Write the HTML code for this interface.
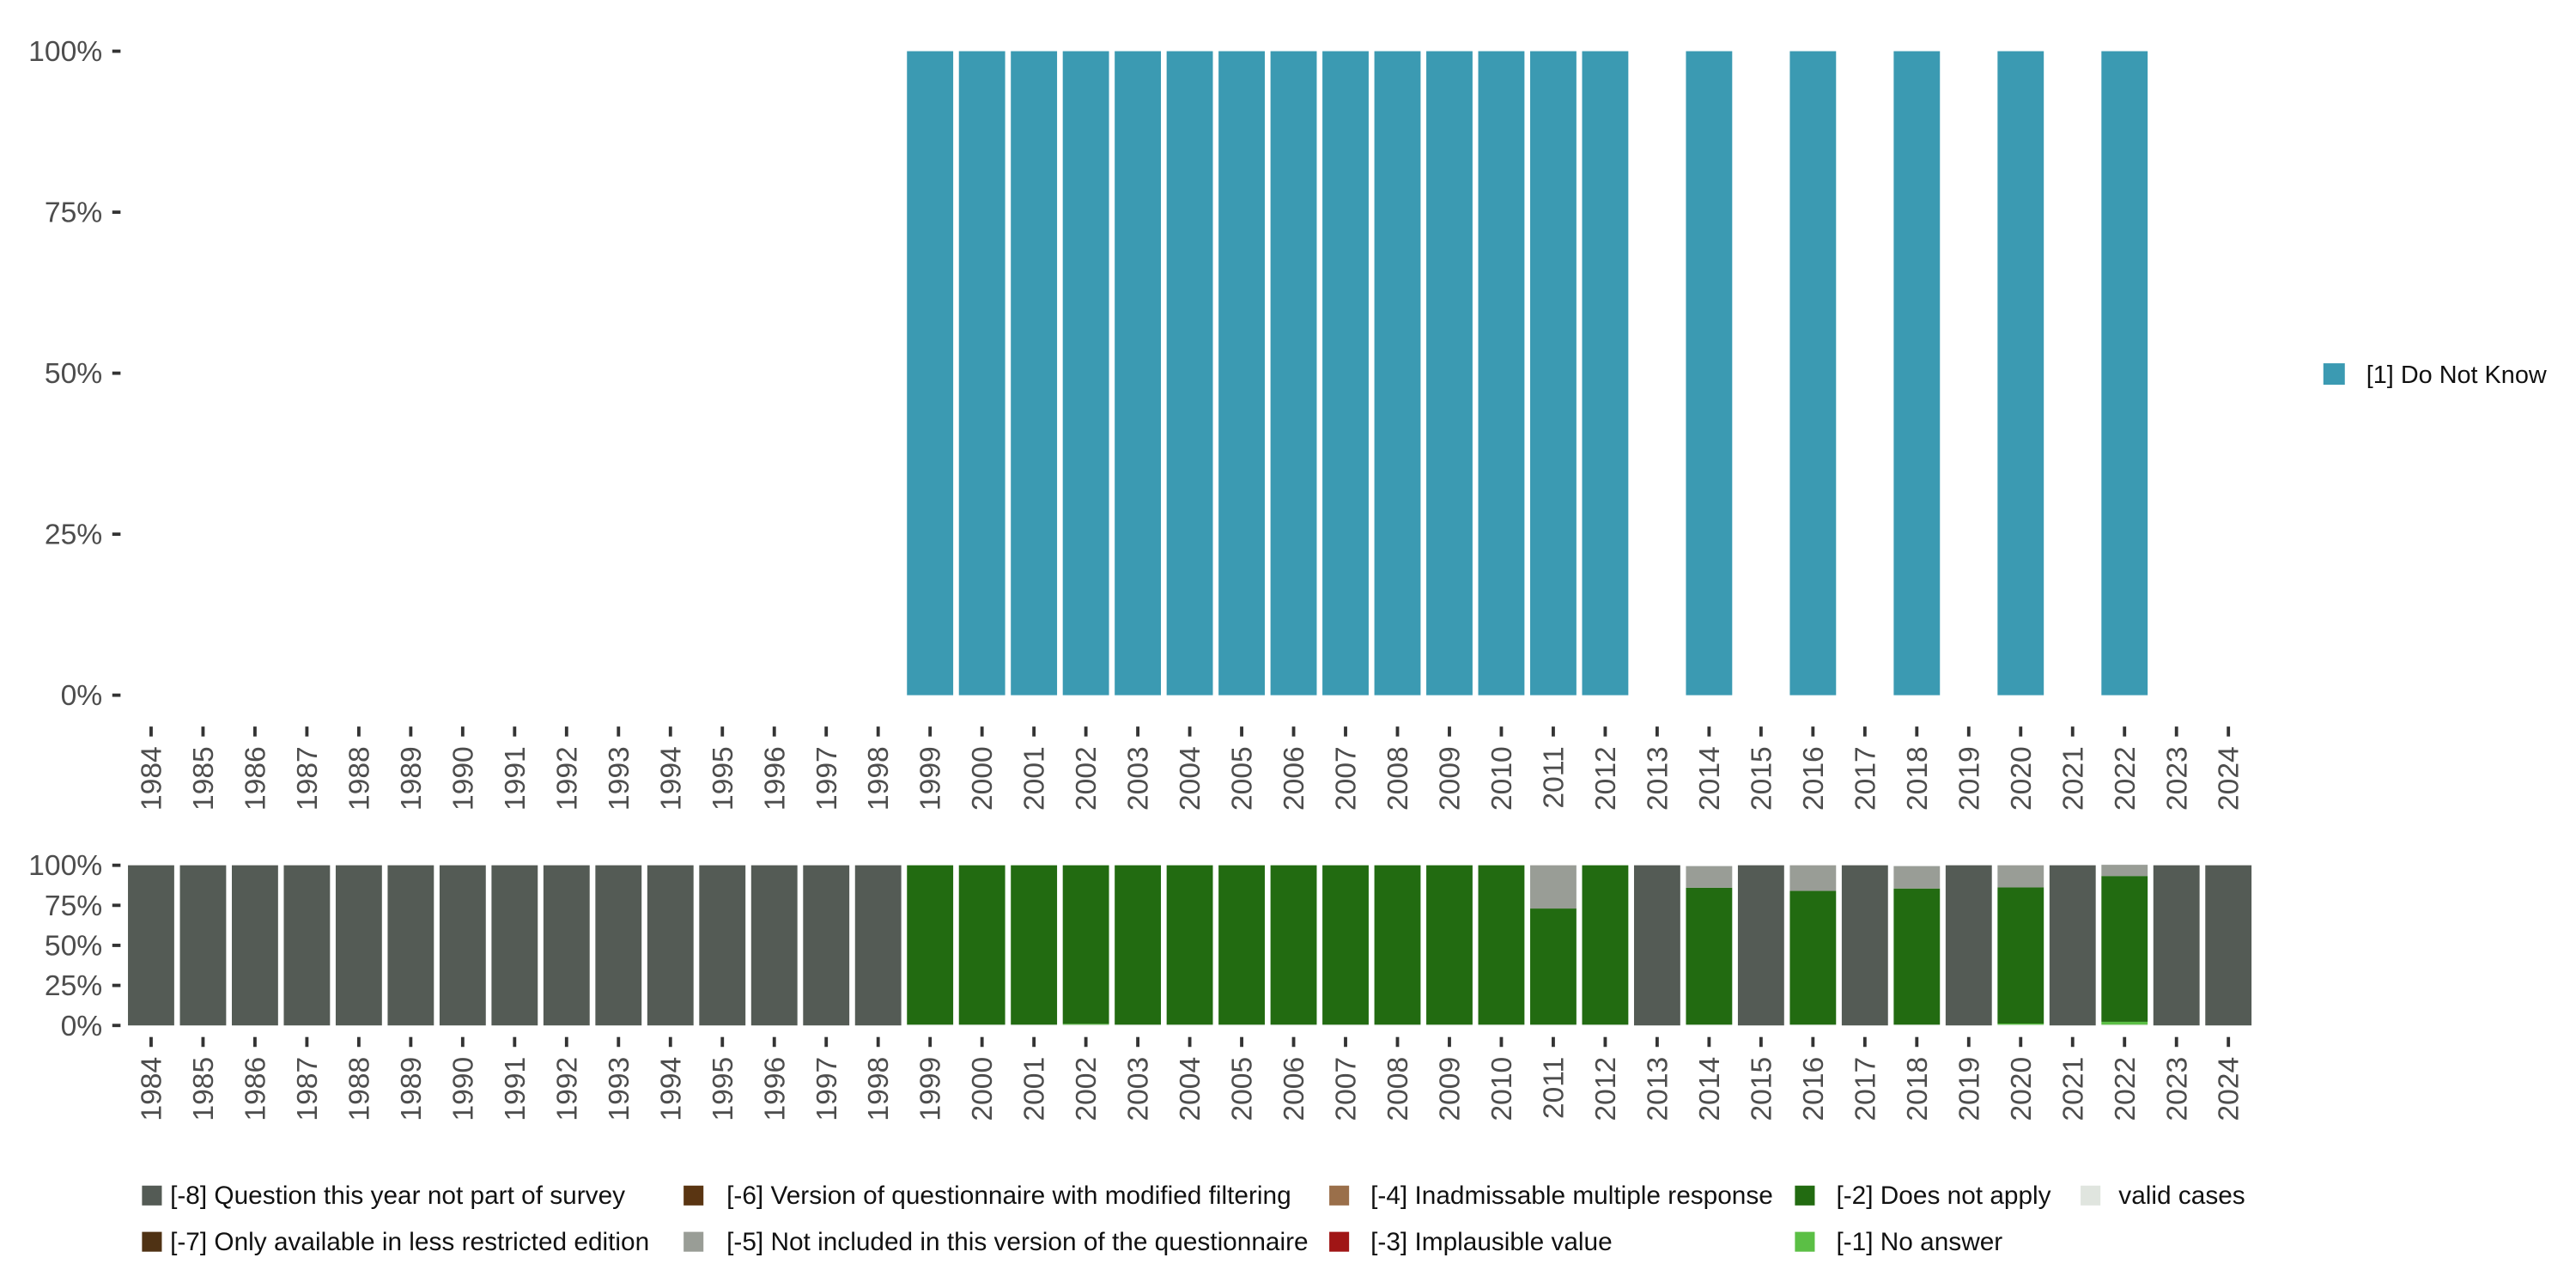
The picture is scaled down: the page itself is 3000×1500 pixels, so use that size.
<!DOCTYPE html>
<html><head><meta charset="utf-8"><style>
html,body{margin:0;padding:0;background:#fff;}
svg{display:block;font-family:"Liberation Sans",sans-serif;}
</style></head><body>
<svg id="chart" width="3000" height="1500" viewBox="0 0 1560 780" xmlns="http://www.w3.org/2000/svg">
<g id="top"></g>
<g id="bottom"></g>
<g id="legend"></g>
</svg>
<script>
const years = [];
for (let y = 1984; y <= 2024; y++) years.push(String(y));
const topYears = ["1999","2000","2001","2002","2003","2004","2005","2006","2007","2008","2009","2010","2011","2012","2014","2016","2018","2020","2022"];
const topValues = [100,100,100,100,100,100,100,100,100,100,100,100,100,100,100,100,100,100,100];
const yTicks = [0,25,50,75,100];
const yTickLabels = ["0%","25%","50%","75%","100%"];
// bottom panel series (percent), per year 1984..2024
const valid = [0,0,0,0,0,0,0,0,0,0,0,0,0,0,0, 0.5,0.5,0.5,0.5,0.5,0.5,0.5,0.5,0.5,0.5,0.5,0.5,0.5,0.5, 0,0.5,0,0.5,0,0.5,0,0.5,0,0.5,0,0];
const noAnswer = [0,0,0,0,0,0,0,0,0,0,0,0,0,0,0, 0,0,0,0.5,0,0,0,0,0,0,0,0,0,0, 0,0,0,0,0,0,0,0.7,0,1.8,0,0];
const doesNotApply = [0,0,0,0,0,0,0,0,0,0,0,0,0,0,0, 99.5,99.5,99.5,99,99.5,99.5,99.5,99.5,99.5,99.5,99.5,99.5,72.5,99.5, 0,85.5,0,83.5,0,85,0,85,0,91,0,0];
const notIncluded = [0,0,0,0,0,0,0,0,0,0,0,0,0,0,0, 0,0,0,0,0,0,0,0,0,0,0,0,27,0, 0,13.5,0,16,0,14,0,13.8,0,7,0,0];
const notPart = [100,100,100,100,100,100,100,100,100,100,100,100,100,100,100, 0,0,0,0,0,0,0,0,0,0,0,0,0,0, 100,0,100,0,100,0,100,0,100,0,100,100];
const seriesData = [valid, noAnswer, doesNotApply, notIncluded, notPart];
const seriesColors = ["#e0e5df","#5bbf45","#226b11","#999d96","#545b55"];
const legendLabels = ["[-8] Question this year not part of survey","[-7] Only available in less restricted edition","[-6] Version of questionnaire with modified filtering","[-5] Not included in this version of the questionnaire","[-4] Inadmissable multiple response","[-3] Implausible value","[-2] Does not apply","[-1] No answer","valid cases"];
const legendColors = ["#545b55","#4f3214","#5a3512","#999d96","#9a6f4a","#a01515","#226b11","#5bbf45","#e0e5df"];

const NS = "http://www.w3.org/2000/svg";
function mk(tag, attrs, parent){const e=document.createElementNS(NS,tag);for(const k in attrs)e.setAttribute(k,attrs[k]);parent.appendChild(e);return e;}
const x = i => 91.5 + i*31.45;
const bw = 28;
function drawAxes(g, y0, y1, tickTop, labelTop, prefix){
  const yS = v => y0 + (y1-y0)*v/100;
  yTicks.forEach((v,i)=>{
    const t=mk("line",{x1:68,x2:73,y1:yS(v),y2:yS(v),stroke:"#333","stroke-width":2},g);
    
    
    const l=mk("text",{x:62,y:yS(v)+6,"text-anchor":"end","font-size":17.5,fill:"#4d4d4d"},g);
    l.textContent=yTickLabels[i];
    
    
  });
  years.forEach((yr,i)=>{
    const t=mk("line",{x1:x(i),x2:x(i),y1:tickTop,y2:tickTop+6,stroke:"#333","stroke-width":2},g);
    
    
    const l=mk("text",{transform:`translate(${x(i)+6},${labelTop}) rotate(-90)`,"text-anchor":"end","font-size":17.5,fill:"#4d4d4d"},g);
    l.textContent=yr;
    
    
  });
  return yS;
}
// top
const gt=document.getElementById("top");
const yT=drawAxes(gt,421,31,440,452,"top");
topYears.forEach((yr,j)=>{
  const i=years.indexOf(yr);
  const r=mk("rect",{x:x(i)-bw/2,y:yT(topValues[j]),width:bw,height:yT(0)-yT(topValues[j]),fill:"#3b9ab2"},gt);
  
  
});
const lt=mk("rect",{x:1407,y:220,width:13,height:13,fill:"#3b9ab2"},gt);


const ltt=mk("text",{x:1433,y:232,"font-size":15,fill:"#111"},gt);
ltt.textContent="[1] Do Not Know";


// bottom
const gb=document.getElementById("bottom");
const yB=drawAxes(gb,621,524,628,640,"bottom");
years.forEach((yr,i)=>{
  let cum=0;
  seriesData.forEach((arr,s)=>{
    const v=arr[i]||0; if(v<=0) return;
    const r=mk("rect",{x:x(i)-bw/2,y:yB(cum+v),width:bw,height:yB(cum)-yB(cum+v),fill:seriesColors[s]},gb);
    
    
    cum+=v;
  });
});
// legend
const gl=document.getElementById("legend");
const cols=[86,414,805,1087,1260];
const textX=[103,440,830,1112,1283];
const textW=[297,365,0,0,0];
legendLabels.forEach((lab,k)=>{
  const c=Math.floor(k/2), row=k%2;
  const cx=cols[c], cy=row? 752:724;
  const s=mk("rect",{x:cx,y:cy-6,width:12,height:12,fill:legendColors[k]},gl);
  
  
  const t=mk("text",{x:textX[c],y:cy+5,"font-size":15.5,fill:"#111"},gl);
  t.textContent=lab;
  
  
});
</script>
</body></html>
